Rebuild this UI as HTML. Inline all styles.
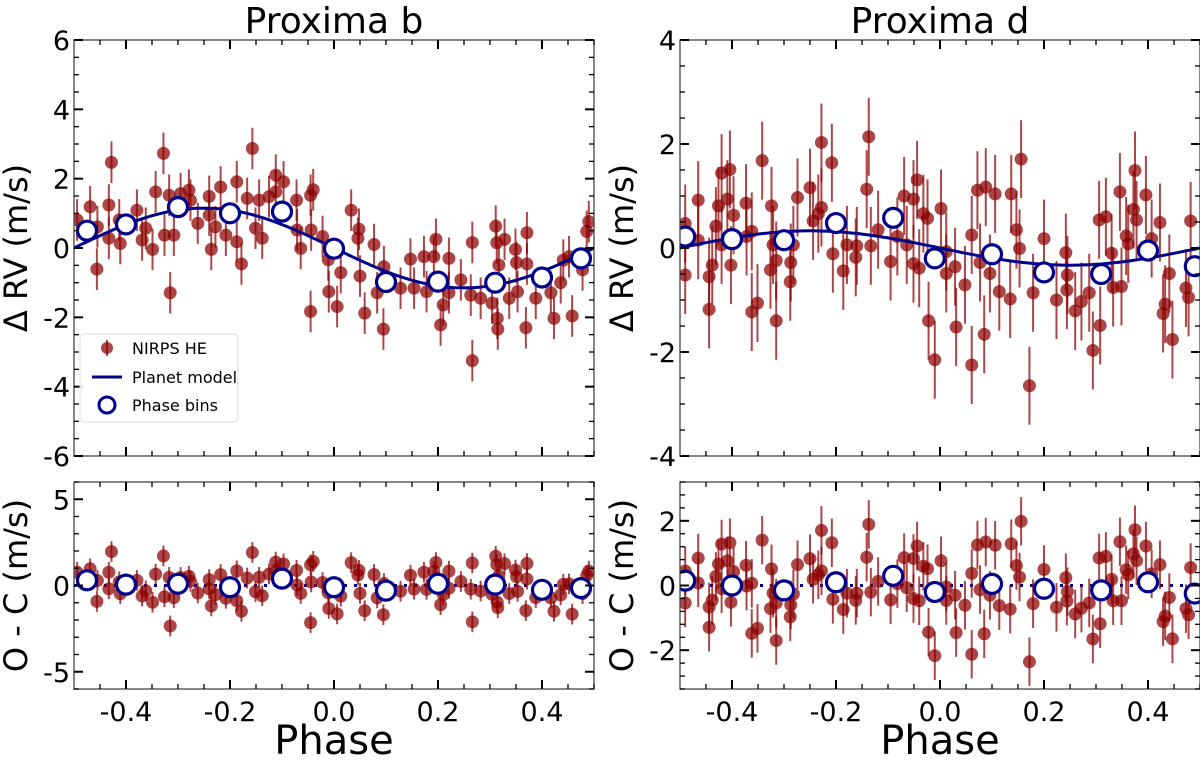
<!DOCTYPE html>
<html><head><meta charset="utf-8"><style>
body{margin:0;background:#fff}
svg{display:block}
text{font-family:"DejaVu Sans","Liberation Sans",sans-serif;fill:#000}
</style></head><body>
<svg id="chart" width="1200" height="760" viewBox="0 0 1200 760"></svg>
<script>
// ---- Proxima b data ----
const bPhase=[-0.494,-0.469,-0.455,-0.456,-0.433,-0.428,-0.433,-0.411,-0.413,-0.379,-0.362,-0.369,-0.349,-0.343,-0.328,-0.317,-0.326,-0.308,-0.315,-0.295,-0.279,-0.276,-0.262,-0.240,-0.240,-0.236,-0.228,-0.218,-0.208,-0.187,-0.187,-0.178,-0.167,-0.151,-0.157,-0.144,-0.138,-0.125,-0.112,-0.112,-0.097,-0.072,-0.071,-0.064,-0.045,-0.040,-0.044,-0.045,-0.022,-0.011,-0.010,
0.006,0.013,0.033,0.048,0.046,0.050,0.059,0.077,0.083,0.095,0.096,0.128,0.147,0.154,0.173,0.178,0.192,0.196,0.205,0.210,0.221,0.221,0.244,0.263,0.266,0.266,0.282,0.304,0.311,0.313,0.314,0.315,0.317,0.328,0.337,0.349,0.351,0.353,0.371,0.371,0.369,0.388,0.417,0.423,0.436,0.441,0.452,0.458,0.478,0.486,0.490];
const bRV=[0.81,1.19,0.61,-0.61,1.24,2.47,0.28,0.13,0.81,1.09,0.57,0.23,-0.04,1.62,2.73,1.52,0.37,0.37,-1.29,1.57,1.67,1.38,0.71,1.49,0.95,-0.04,0.61,1.76,0.37,1.91,0.18,-0.46,1.43,0.57,2.87,1.38,0.28,1.48,2.10,1.62,1.91,1.38,0.52,-0.01,1.52,1.68,0.52,-1.83,0.33,-0.34,-1.26,
-1.69,-0.71,1.09,0.54,0.28,-0.81,-1.88,0.10,-1.29,-2.34,-0.54,-1.16,-0.32,-1.16,-0.25,-1.26,-0.25,0.25,-2.22,-1.64,-0.30,-1.29,-0.92,-1.36,0.16,-3.25,-1.45,-1.59,0.63,0.15,-2.03,-2.34,-0.49,0.25,-1.45,-0.04,-0.42,-1.26,0.44,-0.46,-2.30,-1.45,-1.29,-2.03,-1.00,-0.35,-0.25,-1.96,-0.63,0.48,0.76];
const bErr=0.6;
const bK=1.15;
const bBinPhase=[-0.475,-0.40,-0.30,-0.20,-0.10,0.0,0.10,0.20,0.31,0.40,0.475];
const bBinRV=[0.5,0.68,1.18,1.0,1.05,-0.02,-0.98,-0.97,-1.0,-0.85,-0.3];
const bBinOC=[0.3,0.05,0.1,-0.1,0.4,-0.1,-0.3,0.1,0.05,-0.25,-0.15];
// ---- Proxima d data ----
const dPhase=[-0.490,-0.490,-0.465,-0.465,-0.444,-0.444,-0.438,-0.431,-0.426,-0.420,-0.420,-0.409,-0.404,-0.402,-0.397,-0.373,-0.372,-0.362,-0.362,-0.351,-0.342,-0.326,-0.324,-0.321,-0.315,-0.315,-0.287,-0.288,-0.282,-0.274,-0.250,-0.244,-0.234,-0.228,-0.228,-0.208,-0.206,-0.186,-0.179,-0.162,-0.160,-0.141,-0.137,-0.133,-0.119,-0.095,-0.082,-0.069,-0.064,-0.051,-0.044,-0.051,-0.040,-0.032,-0.024,-0.022,-0.010,0.002,
0.012,0.012,0.029,0.031,0.048,0.061,0.061,0.072,0.077,0.085,0.088,0.096,0.106,0.114,0.135,0.137,0.147,0.153,0.156,0.172,0.179,0.200,0.224,0.242,0.245,0.244,0.260,0.272,0.287,0.294,0.308,0.306,0.319,0.330,0.333,0.346,0.349,0.358,0.362,0.372,0.375,0.378,0.396,0.407,0.423,0.429,0.433,0.441,0.447,0.473,0.478,0.482];
const dRV=[0.47,-0.52,0.92,0.15,-0.55,-1.18,-0.33,0.42,0.81,1.44,0.06,0.94,1.51,-0.33,0.63,0.86,0.22,0.32,-1.23,-1.06,1.68,-0.42,0.81,0.06,-0.24,-1.40,-0.28,-0.65,0.06,0.97,1.16,0.52,0.66,0.78,2.03,1.64,-0.11,-0.44,0.06,-0.18,0.04,1.13,2.14,0.04,0.35,-0.26,0.22,1.00,0.06,0.94,1.31,-0.30,-0.39,0.66,0.57,-1.40,-2.15,0.76,
-0.07,-0.49,-0.36,-1.52,-0.71,0.25,-2.25,1.11,-0.28,-1.66,1.17,-0.49,1.04,-0.84,-0.98,1.04,0.35,-0.01,1.71,-2.65,-0.86,0.18,-1.00,-0.09,-0.52,-0.81,-1.21,-1.03,-0.86,-1.97,-1.49,0.54,0.60,-0.10,-0.76,1.08,-0.74,0.23,0.08,0.74,1.49,0.54,1.02,0.18,0.49,-1.26,-1.08,-0.49,-1.76,-0.77,-0.95,0.52];
const dErr=0.75;
const dK=0.33;
const dBinPhase=[-0.49,-0.40,-0.30,-0.20,-0.09,-0.01,0.10,0.20,0.31,0.40,0.49];
const dBinRV=[0.22,0.17,0.15,0.48,0.58,-0.2,-0.12,-0.47,-0.5,-0.05,-0.35];
const dBinOC=[0.15,0.0,-0.15,0.1,0.3,-0.2,0.05,-0.1,-0.15,0.1,-0.25];
const xTicks=[-0.4,-0.2,0.0,0.2,0.4];

const NS="http://www.w3.org/2000/svg";
const svg=document.getElementById('chart');
function mk(tag,attrs,parent){const e=document.createElementNS(NS,tag);for(const k in attrs)e.setAttribute(k,attrs[k]);(parent||svg).appendChild(e);return e;}
const RED='rgba(139,0,0,0.72)',NAVY='#00008b';

function panel(o){
  const g=mk('g',{});
  
  
  const sx=v=>o.x0+(v+0.5)*(o.x1-o.x0);
  const sy=v=>o.yb-(v-o.ymin)/(o.ymax-o.ymin)*(o.yb-o.yt);
  const cg=mk('g',{},g);
  const cid='clip'+o.name;
  const cp=mk('clipPath',{id:cid},g);mk('rect',{x:o.x0,y:o.yt,width:o.x1-o.x0,height:o.yb-o.yt},cp);
  cg.setAttribute('clip-path','url(#'+cid+')');
  if(o.zeroLine){
    const l=mk('line',{x1:o.x0,x2:o.x1,y1:sy(0),y2:sy(0),stroke:NAVY,'stroke-width':3,'stroke-dasharray':'3,7'},cg);
    
    
  }
  for(let i=0;i<o.px.length;i++){
    const v=o.py[i];
    const eb=mk('line',{x1:sx(o.px[i]),x2:sx(o.px[i]),y1:sy(v-o.err),y2:sy(v+o.err),stroke:RED,'stroke-width':2},cg);
    
    
    const c=mk('circle',{cx:sx(o.px[i]),cy:sy(v),r:6.5,fill:RED},cg);
    
    
  }
  if(o.K!==undefined){
    let d='';
    for(let i=0;i<=200;i++){const p=-0.5+i/200;const v=-o.K*Math.sin(2*Math.PI*p);d+=(i?'L':'M')+sx(p).toFixed(1)+','+sy(v).toFixed(1);}
    const m=mk('path',{d:d,fill:'none',stroke:NAVY,'stroke-width':3},cg);
    
    
  }
  for(let i=0;i<o.bx.length;i++){
    const c=mk('circle',{cx:sx(o.bx[i]),cy:sy(o.by[i]),r:9.5,fill:'#fff',stroke:NAVY,'stroke-width':3.2},cg);
    
    
  }
  const f=mk('rect',{x:o.x0,y:o.yt,width:o.x1-o.x0,height:o.yb-o.yt,fill:'none',stroke:'#444','stroke-width':1.3},g);
  
  
  for(let t=-0.45;t<0.5;t+=0.05){const X=sx(t);const major=xTicks.some(v=>Math.abs(v-t)<1e-6);const L=major?9:5;
    mk('line',{x1:X,x2:X,y1:o.yb,y2:o.yb-L,stroke:'#000','stroke-width':major?2:1.3},g);
    mk('line',{x1:X,x2:X,y1:o.yt,y2:o.yt+L,stroke:'#000','stroke-width':major?2:1.3},g);}
  if(o.xlabels){xTicks.forEach(t=>{const tx=mk('text',{x:sx(t),y:o.yb+32,'font-size':27,'text-anchor':'middle'},g);tx.textContent=t.toFixed(1);
    
    });}
  const n=Math.round((o.ymax-o.ymin)/o.minor);
  for(let i=0;i<=n;i++){const v=o.ymin+i*o.minor;const Y=sy(v);const major=Math.abs(v/o.major-Math.round(v/o.major))<1e-6;const L=major?9:5;
    mk('line',{x1:o.x0,x2:o.x0+L,y1:Y,y2:Y,stroke:'#000','stroke-width':major?2:1.3},g);
    mk('line',{x1:o.x1,x2:o.x1-L,y1:Y,y2:Y,stroke:'#000','stroke-width':major?2:1.3},g);}
  o.ylab.forEach(v=>{const tx=mk('text',{x:o.x0-4,y:sy(v)+10,'font-size':27,'text-anchor':'end'},g);tx.textContent=v;
    
    });
  const yl=mk('text',{x:0,y:0,'font-size':32,'text-anchor':'middle',transform:'translate('+(o.x0-47)+','+((o.yt+o.yb)/2)+') rotate(-90)'},g);
  yl.textContent=o.ytitle;
  
  
}
function oc(ph,rv,K){return rv.map((v,i)=>v-(-K*Math.sin(2*Math.PI*ph[i])));}

panel({name:'proxima-b-rv',x0:74,x1:594,yt:40,yb:456,ymin:-6,ymax:6,major:2,minor:0.5,ylab:[6,4,2,0,-2,-4,-6],px:bPhase,py:bRV,err:bErr,K:bK,bx:bBinPhase,by:bBinRV,ytitle:'Δ RV (m/s)'});
panel({name:'proxima-b-oc',x0:74,x1:594,yt:482,yb:689,ymin:-6,ymax:6,major:5,minor:1,ylab:[5,0,-5],px:bPhase,py:oc(bPhase,bRV,bK),err:bErr,bx:bBinPhase,by:bBinOC,zeroLine:true,xlabels:true,ytitle:'O - C (m/s)'});
panel({name:'proxima-d-rv',x0:680,x1:1200,yt:40,yb:456,ymin:-4,ymax:4,major:2,minor:0.5,ylab:[4,2,0,-2,-4],px:dPhase,py:dRV,err:dErr,K:dK,bx:dBinPhase,by:dBinRV,ytitle:'Δ RV (m/s)'});
panel({name:'proxima-d-oc',x0:680,x1:1200,yt:482,yb:689,ymin:-3.2,ymax:3.2,major:2,minor:0.4,ylab:[2,0,-2],px:dPhase,py:oc(dPhase,dRV,dK),err:dErr,bx:dBinPhase,by:dBinOC,zeroLine:true,xlabels:true,ytitle:'O - C (m/s)'});

[['Proxima b',334],['Proxima d',940]].forEach(a=>{const t=mk('text',{x:a[1],y:33,'font-size':36,'text-anchor':'middle'});t.textContent=a[0];
  
  });
[334,940].forEach(x=>{const t=mk('text',{x:x,y:754,'font-size':40,'text-anchor':'middle'});t.textContent='Phase';
  
  });

const lg=mk('g',{});


mk('rect',{x:80,y:334,width:158,height:88,rx:4,fill:'rgba(255,255,255,0.85)',stroke:'#ddd'},lg);
mk('line',{x1:107,x2:107,y1:340,y2:356,stroke:RED,'stroke-width':2},lg);
mk('circle',{cx:107,cy:348,r:6,fill:RED},lg);
mk('line',{x1:92,x2:122,y1:377,y2:377,stroke:NAVY,'stroke-width':3},lg);
mk('circle',{cx:107,cy:405,r:8,fill:'#fff',stroke:NAVY,'stroke-width':3},lg);
[['NIRPS HE',354],['Planet model',383],['Phase bins',411]].forEach(a=>{const t=mk('text',{x:132,y:a[1],'font-size':16},lg);t.textContent=a[0];
  
  });
</script>
</body></html>
